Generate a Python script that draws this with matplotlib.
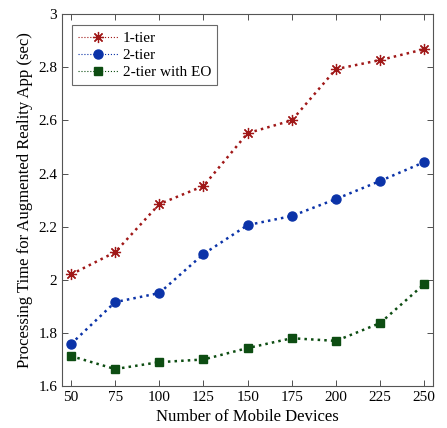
import matplotlib
matplotlib.use("Agg")
import matplotlib.pyplot as plt

devices = [50, 75, 100, 125, 150, 175, 200, 225, 250]
tier1 = [2.02, 2.104, 2.285, 2.353, 2.552, 2.60, 2.793, 2.827, 2.868]
tier2 = [1.758, 1.916, 1.95, 2.097, 2.206, 2.24, 2.304, 2.372, 2.443]
tier2_eo = [1.713, 1.664, 1.69, 1.70, 1.743, 1.78, 1.77, 1.837, 1.984]

plt.rcParams['font.family'] = ['Liberation Serif', 'DejaVu Serif']
plt.rcParams['font.size'] = 11

fig = plt.figure(figsize=(4.47, 4.28), dpi=100)
ax = fig.add_axes([0.139, 0.098, 0.830, 0.869])

ax.plot(devices, tier1, ':', color='#a01818', lw=1.8, marker=(8, 2, 0), ms=8,
        markeredgewidth=0.9, label='1-tier')
ax.plot(devices, tier2, ':', color='#0b33a8', lw=1.8, marker='o', ms=6.5,
        label='2-tier')
ax.plot(devices, tier2_eo, ':', color='#0d4d12', lw=1.8, marker='s', ms=5.5,
        label='2-tier with EO')

ax.set_xlim(45, 255)
ax.set_ylim(1.6, 3.0)
ax.set_xticks(devices)
ax.set_yticks([1.6, 1.8, 2.0, 2.2, 2.4, 2.6, 2.8, 3.0])
ax.set_yticklabels(['1.6', '1.8', '2', '2.2', '2.4', '2.6', '2.8', '3'])
ax.tick_params(direction='in', top=True, right=True, length=4, width=0.6,
               colors='#333333', labelcolor='black')
for s in ax.spines.values():
    s.set_color('#555555')
    s.set_linewidth(0.8)

ax.set_xlabel('Number of Mobile Devices', fontsize=12)
ax.set_ylabel('Processing Time for Augmented Reality App (sec)', fontsize=12)

leg = ax.legend(loc='upper left', bbox_to_anchor=(0.027, 0.97), fancybox=False,
                edgecolor='#444444', fontsize=11, handlelength=2.6,
                borderaxespad=0.0, labelspacing=0.22, borderpad=0.4,
                handletextpad=0.3)
leg.get_frame().set_linewidth(0.8)
for h in leg.get_lines():
    h.set_linewidth(0.8)

fig.savefig('out.png', dpi=100)
